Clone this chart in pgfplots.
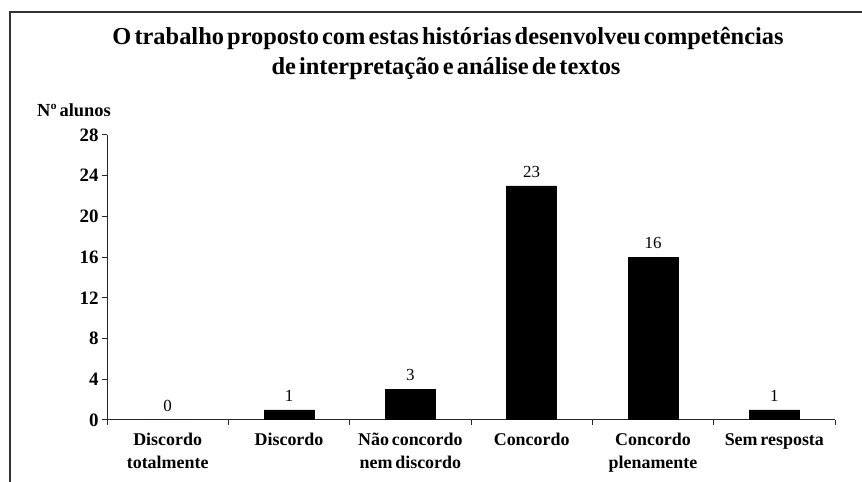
\documentclass[border=0pt]{standalone}
\usepackage{fontspec}
\setmainfont{Liberation Serif}
\usepackage{pgfplots}
\pgfplotsset{compat=1.18}
\newcommand{\tightA}{\spaceskip=0.13em plus 0.02em\relax}
\newcommand{\tightB}{\spaceskip=0.16em plus 0.02em\relax}
\newcommand{\st}{\rule{0pt}{16bp}}
\begin{document}
\begin{tikzpicture}[x=1bp,y=1bp]
\path[use as bounding box] (0,0) rectangle (862,482);
\draw[line width=1.3bp, black!80] (10,0) -- (10,470) -- (862,470);
\node[font=\bfseries\fontsize{24.5}{28}\selectfont] at (448,443) {\tightA O trabalho proposto com estas histórias desenvolveu competências};
\node[font=\bfseries\fontsize{24.5}{28}\selectfont] at (446,413) {\tightA de interpretação e análise de textos};
\node[font=\bfseries\fontsize{18.5}{20}\selectfont, anchor=west, inner sep=0pt] at (37,372) {\tightB Nº alunos};
\begin{axis}[
  at={(107bp,62bp)}, anchor=south west,
  scale only axis, width=728bp, height=285bp,
  xmin=-0.5, xmax=5.5, ymin=0, ymax=28,
  axis x line*=bottom, axis y line*=left,
  axis line style={-, line width=1bp, black!85},
  ytick={0,4,...,28},
  xtick={0,...,5},
  xticklabels={{\st\tightB Discordo\\\tightB totalmente},{\st Discordo},{\st\tightB Não concordo\\\tightB nem discordo},{\st Concordo},{\st Concordo\\plenamente},{\st\tightB Sem resposta}},
  major x tick style={draw=none},
  minor xtick={-0.5,0.5,...,5.5},
  tick align=outside,
  major tick length=5bp, minor tick length=5bp,
  tick style={line width=1bp, black!85},
  /pgf/number format/assume math mode=true,
  yticklabel style={font=\bfseries\fontsize{19}{19}\selectfont},
  xticklabel style={align=center, font=\bfseries\fontsize{18}{23}\selectfont, anchor=north, yshift=-1bp},
  ybar, bar width=50bp,
  nodes near coords,
  nodes near coords style={font=\fontsize{17}{17}\selectfont, yshift=5bp},
]
\addplot[fill=black, draw=black] coordinates {(0,0) (1,1) (2,3) (3,23) (4,16) (5,1)};
\end{axis}
\end{tikzpicture}
\end{document}
